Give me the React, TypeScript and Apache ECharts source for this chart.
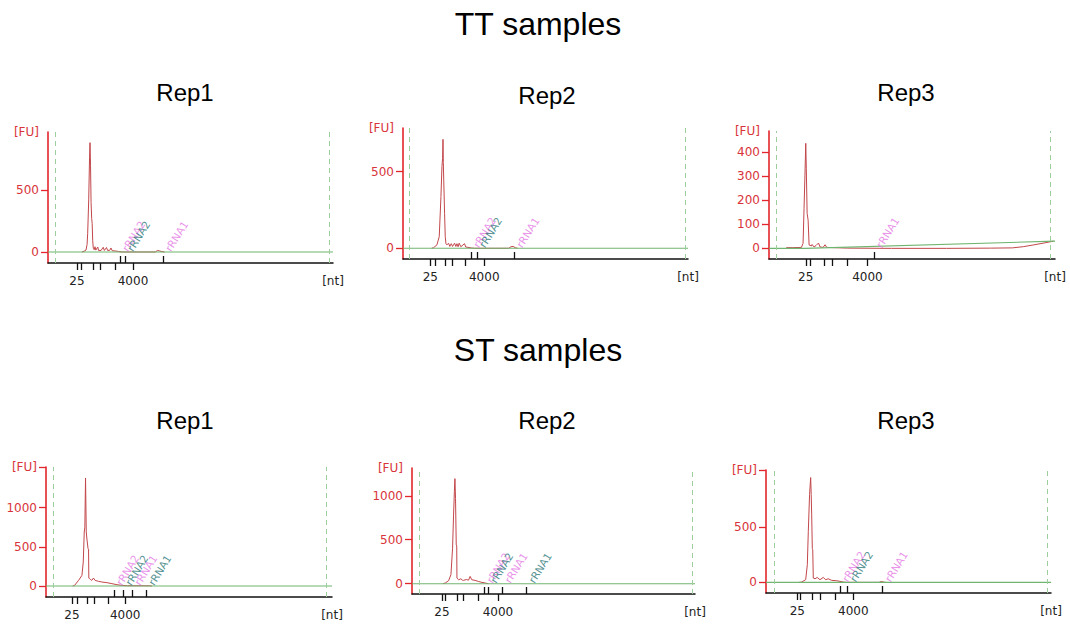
import React, { useEffect, useRef } from "react";
import * as echarts from "echarts";

type Pt = [number, number];

// Migration time (s) of the analysis region borders
const regionStart = 19;
const regionEnd = 69;

// ---------- TT samples ----------
const ttRep1Trace: Pt[] = [[23.9,0],[24.3,6],[24.66,16],[24.85,60],[24.96,150],[25.15,420],[25.3,760],[25.39,882],[25.48,700],[25.58,400],[25.69,271],[25.78,230],[25.88,90],[25.99,30],[26.15,18],[26.3,42],[26.45,15],[26.8,40],[26.95,12],[27.4,12],[27.8,38],[28.0,12],[28.4,36],[28.6,12],[29.0,14],[29.2,32],[29.45,10],[30.0,8],[30.6,4],[31.2,0],[37.3,0],[37.7,12],[38.1,8],[38.5,3],[39.0,0]];
const ttRep1Ladder = [23.01, 23.74, 25.93, 27.21, 29.95, 33.23];
const ttRep1Peaks = [30.86, 31.77, 38.71];
const ttRep1PeakNames = ["rRNA2", "rRNA2", "rRNA1"];
const ttRep1PeakKinds = ["sample", "ref", "sample"];
const ttRep1YTicks = [0, 500];

const ttRep2Trace: Pt[] = [[23.0,0],[23.35,4],[23.96,22],[24.38,76],[24.69,337],[24.87,533],[24.99,587],[25.06,711],[25.12,560],[25.2,440],[25.35,228],[25.47,76],[25.6,30],[25.78,22],[26.07,33],[26.3,12],[26.56,30],[26.8,12],[27.16,33],[27.4,12],[27.6,30],[27.8,10],[28.0,33],[28.3,10],[28.97,30],[29.2,8],[29.6,6],[30.2,2],[30.8,0],[37.0,0],[37.4,10],[37.8,12],[38.2,4],[38.6,0]];
const ttRep2Ladder = [22.75, 23.66, 25.47, 26.69, 29.1, 32.55];
const ttRep2Peaks = [30.13, 31.22, 37.99];
const ttRep2PeakNames = ["rRNA2", "rRNA2", "rRNA1"];
const ttRep2PeakKinds = ["sample", "ref", "sample"];
const ttRep2YTicks = [0, 500];

const ttRep3Trace: Pt[] = [[20.8,3],[22,3],[23.56,4],[23.86,21],[24.04,166],[24.2,300],[24.35,435],[24.45,330],[24.6,145],[24.78,117],[24.96,14],[25.39,10],[25.5,16],[25.86,6],[26.23,12],[26.67,22],[26.96,6],[27.5,4],[27.87,15],[28.18,4],[29.4,3],[32,1],[40,0],[50,0],[58,1],[62,2],[64.0,7],[65.8,14],[67.96,23],[69.5,30]];
const ttRep3Baseline: Pt[] = [[17.65,0],[24.2,0],[69.78,30]];
const ttRep3Ladder = [24.35, 25.2, 27.7, 29.1, 32.0, 35.6];
const ttRep3Peaks = [36.8];
const ttRep3PeakNames = ["rRNA1"];
const ttRep3PeakKinds = ["sample"];
const ttRep3YTicks = [0, 100, 200, 300, 400];

// ---------- ST samples ----------
const stRep1Trace: Pt[] = [[22.5,0],[22.84,8],[23.57,72],[24.19,136],[24.43,306],[24.61,689],[24.72,750],[24.85,1378],[24.98,690],[25.1,600],[25.3,480],[25.4,470],[25.45,100],[25.6,94],[25.8,80],[26.0,72],[26.3,102],[26.6,72],[27.2,60],[27.85,51],[28.76,43],[29.68,30],[30.6,17],[31.5,8],[32.5,4],[36.5,3],[37,0]];
const stRep1Ladder = [22.36, 23.28, 25.22, 26.5, 29.0, 32.1];
const stRep1Peaks = [30.03, 31.74, 33.39, 35.95];
const stRep1PeakNames = ["rRNA2", "rRNA2", "rRNA1", "rRNA1"];
const stRep1PeakKinds = ["sample", "ref", "sample", "ref"];
const stRep1YTicks = [0, 500, 1000];

const stRep2Trace: Pt[] = [[23.3,0],[23.75,8],[24.36,34],[24.79,102],[25.09,404],[25.27,780],[25.42,1050],[25.52,1195],[25.63,970],[25.72,600],[25.76,441],[25.85,430],[25.89,64],[26.2,45],[26.6,56],[26.9,40],[27.1,38],[27.6,48],[28.0,40],[28.3,83],[28.6,45],[29.2,38],[29.8,26],[30.45,15],[31.06,8],[31.66,0]];
const stRep2Ladder = [23.15, 23.76, 26.0, 27.1, 29.73, 33.39];
const stRep2Peaks = [30.92, 31.6, 34.21, 38.6];
const stRep2PeakNames = ["rRNA2", "rRNA2", "rRNA1", "rRNA1"];
const stRep2PeakKinds = ["sample", "ref", "sample", "ref"];
const stRep2YTicks = [0, 500, 1000];

const stRep3Trace: Pt[] = [[23.6,0],[24.06,3],[24.79,24],[25.09,160],[25.27,464],[25.5,800],[25.7,955],[25.8,800],[25.89,615],[26.0,310],[26.08,297],[26.18,39],[26.5,33],[26.9,45],[27.4,24],[28.0,45],[28.45,24],[28.9,33],[29.54,18],[30.45,15],[31.06,9],[31.66,3],[32.2,0],[38.2,0],[38.6,8],[39.0,3],[39.4,0]];
const stRep3Ladder = [23.26, 23.88, 26.07, 27.4, 30.14, 33.49];
const stRep3Peaks = [31.06, 32.47, 38.86];
const stRep3PeakNames = ["rRNA2", "rRNA2", "rRNA1"];
const stRep3PeakKinds = ["sample", "ref", "sample"];
const stRep3YTicks = [0, 500];

const ladderFirstLabel = "25";
const ladderLastLabel = "4000";
const groupTitles = ["TT samples", "ST samples"];
const repTitles = ["Rep1", "Rep2", "Rep3"];

// ---------- layout (pixels) ----------
const panels = [
  { trace: ttRep1Trace, baseline: null as Pt[] | null, ladder: ttRep1Ladder, peaks: ttRep1Peaks, names: ttRep1PeakNames, kinds: ttRep1PeakKinds, yTicks: ttRep1YTicks, topTick: false,
    left: 48, top: 132, right: 333, bottom: 263, xMin: 17.72, xMax: 69.73, yMin: -89, yMax: 968 },
  { trace: ttRep2Trace, baseline: null, ladder: ttRep2Ladder, peaks: ttRep2Peaks, names: ttRep2PeakNames, kinds: ttRep2PeakKinds, yTicks: ttRep2YTicks, topTick: false,
    left: 403, top: 128, right: 688, bottom: 259, xMin: 17.8, xMax: 69.54, yMin: -70, yMax: 785 },
  { trace: ttRep3Trace, baseline: ttRep3Baseline, ladder: ttRep3Ladder, peaks: ttRep3Peaks, names: ttRep3PeakNames, kinds: ttRep3PeakKinds, yTicks: ttRep3YTicks, topTick: false,
    left: 769, top: 131, right: 1055, bottom: 259, xMin: 17.65, xMax: 69.78, yMin: -44, yMax: 486 },
  { trace: stRep1Trace, baseline: null, ladder: stRep1Ladder, peaks: stRep1Peaks, names: stRep1PeakNames, kinds: stRep1PeakKinds, yTicks: stRep1YTicks, topTick: true,
    left: 46, top: 467, right: 332, bottom: 597, xMin: 17.61, xMax: 69.97, yMin: -140, yMax: 1518 },
  { trace: stRep2Trace, baseline: null, ladder: stRep2Ladder, peaks: stRep2Peaks, names: stRep2PeakNames, kinds: stRep2PeakKinds, yTicks: stRep2YTicks, topTick: false,
    left: 412, top: 468, right: 695, bottom: 594, xMin: 17.67, xMax: 69.42, yMin: -117, yMax: 1316 },
  { trace: stRep3Trace, baseline: null, ladder: stRep3Ladder, peaks: stRep3Peaks, names: stRep3PeakNames, kinds: stRep3PeakKinds, yTicks: stRep3YTicks, topTick: true,
    left: 766, top: 470, right: 1051, bottom: 593, xMin: 17.54, xMax: 69.61, yMin: -97, yMax: 1024 },
];

const repCenters = [185, 547, 906];
const repYs = [[92, 95, 92], [420, 420, 420]];
const groupYs = [24, 350];

const RED_AXIS = "#e3262b";
const RED_TEXT = "#d8343a";
const TRACE = "#c2474b";
const GREEN = "#6fb46f";
const DASH = "#9ccf9c";
const PINK = "#e477e4";
const TEAL = "#2a7676";
const TICK_FONT = "DejaVu Sans";
const TITLE_FONT = "Liberation Sans, Arial, sans-serif";

const near = (a: number, b: number) => Math.abs(a - b) < 1e-6;

function buildOption() {
  const grid: any[] = [];
  const xAxis: any[] = [];
  const yAxis: any[] = [];
  const series: any[] = [];

  panels.forEach((p, i) => {
    grid.push({ left: p.left, top: p.top, width: p.right - p.left, height: p.bottom - p.top, containLabel: false });
    const ladder = p.ladder;
    xAxis.push({
      type: "value", gridIndex: i, min: p.xMin, max: p.xMax, position: "bottom",
      axisLine: { show: true, onZero: false, lineStyle: { color: "#111", width: 1.5 } },
      axisTick: { show: true, inside: false, length: 7, customValues: ladder, lineStyle: { color: "#111", width: 1.3 } },
      axisLabel: {
        show: true, customValues: [ladder[0], ladder[ladder.length - 1], p.xMax],
        showMinLabel: true, showMaxLabel: true, margin: 12,
        color: "#222", fontSize: 12, fontFamily: TICK_FONT,
        formatter: (v: number) => near(v, ladder[0]) ? ladderFirstLabel : near(v, ladder[ladder.length - 1]) ? ladderLastLabel : "[nt]",
      },
      splitLine: { show: false },
    });
    xAxis.push({
      type: "value", gridIndex: i, min: p.xMin, max: p.xMax, position: "bottom",
      axisLine: { show: false, onZero: false },
      axisTick: { show: true, inside: true, length: 7, customValues: p.peaks, lineStyle: { color: "#111", width: 1.3 } },
      axisLabel: { show: false },
      splitLine: { show: false },
    });
    const yTickVals = p.topTick ? [...p.yTicks, p.yMax] : p.yTicks;
    yAxis.push({
      type: "value", gridIndex: i, min: p.yMin, max: p.yMax,
      axisLine: { show: true, onZero: false, lineStyle: { color: RED_AXIS, width: 1.6 } },
      axisTick: { show: true, length: 7, customValues: yTickVals, lineStyle: { color: RED_AXIS, width: 1.3 } },
      axisLabel: {
        show: true, customValues: [...p.yTicks, p.yMax], showMinLabel: true, showMaxLabel: true,
        margin: 9, color: RED_TEXT, fontSize: 12, fontFamily: TICK_FONT,
        formatter: (v: number) => near(v, p.yMax) ? "[FU]" : String(v),
      },
      splitLine: { show: false },
    });

    const baseline = p.baseline ?? [[p.xMin, 0], [p.xMax, 0]];
    series.push({
      type: "line", xAxisIndex: 2 * i, yAxisIndex: i, data: p.trace,
      showSymbol: false, symbol: "none", smooth: false, z: 2,
      lineStyle: { color: TRACE, width: 1 },
      markLine: {
        silent: true, symbol: ["none", "none"], label: { show: false },
        lineStyle: { color: DASH, type: [5, 4], width: 1 },
        data: [{ xAxis: regionStart }, { xAxis: regionEnd }],
      },
    });
    series.push({
      type: "line", xAxisIndex: 2 * i, yAxisIndex: i, data: baseline,
      showSymbol: false, symbol: "none", z: 3,
      lineStyle: { color: GREEN, width: 1.1 },
    });
    series.push({
      type: "scatter", xAxisIndex: 2 * i, yAxisIndex: i, symbolSize: 0, z: 4,
      data: p.peaks.map((x, k) => ({
        value: [x, 0], name: p.names[k],
        label: { color: p.kinds[k] === "ref" ? TEAL : PINK },
      })),
      label: {
        show: true, position: [0, 0], formatter: (d: any) => d.name,
        rotate: 58, align: "left", verticalAlign: "middle", offset: [4, 3],
        fontSize: 10.5, fontFamily: TICK_FONT,
      },
    });
  });

  const graphic: any[] = [];
  groupTitles.forEach((t, g) => {
    graphic.push({ type: "text", x: 538, y: groupYs[g], style: { text: t, fontSize: 32, fontFamily: TITLE_FONT, fill: "#000", align: "center", verticalAlign: "middle" } });
    repTitles.forEach((r, k) => {
      graphic.push({ type: "text", x: repCenters[k], y: repYs[g][k], style: { text: r, fontSize: 24, fontFamily: TITLE_FONT, fill: "#000", align: "center", verticalAlign: "middle" } });
    });
  });

  return { animation: false, backgroundColor: "#fff", grid, xAxis, yAxis, series, graphic };
}

export default function App() {
  const ref = useRef<HTMLDivElement>(null);
  useEffect(() => {
    document.body.style.margin = "0";
    if (!ref.current) return;
    const chart = echarts.init(ref.current, null, { renderer: "svg" });
    chart.setOption(buildOption());
    return () => chart.dispose();
  }, []);
  return <div ref={ref} style={{ width: 1070, height: 626 }} />;
}
